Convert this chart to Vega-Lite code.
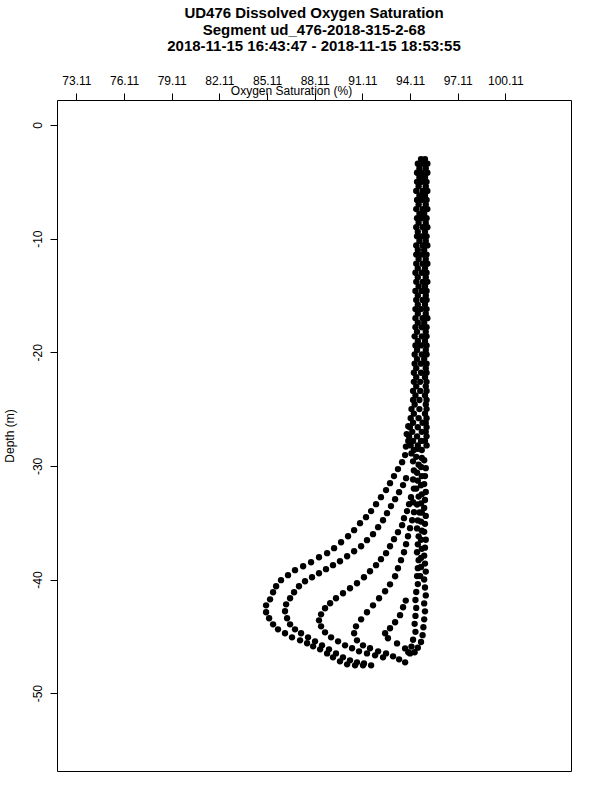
{
  "$schema": "https://vega.github.io/schema/vega-lite/v6.json",
  "autosize": "none",
  "padding": {"left": 57, "top": 100, "right": 29, "bottom": 29},
  "width": 514,
  "height": 671,
  "background": "white",
  "title": {
    "text": ["UD476 Dissolved Oxygen Saturation", "Segment ud_476-2018-315-2-68", "2018-11-15 16:43:47 - 2018-11-15 18:53:55"],
    "font": "Liberation Sans",
    "fontSize": 15,
    "fontWeight": "bold",
    "color": "black",
    "lineHeight": 16.5,
    "anchor": "middle",
    "frame": "group",
    "offset": 20
  },
  "data": {"values": [
    {"o":94.8,"d":-3.0},{"o":95.05,"d":-3.0},
    {"o":94.6,"d":-3.4},{"o":94.95,"d":-3.4},{"o":95.2,"d":-3.4},
    {"o":94.7,"d":-3.8},{"o":95.1,"d":-3.8},
    {"o":94.55,"d":-4.2},{"o":94.9,"d":-4.2},{"o":95.2,"d":-4.2},
    {"o":94.7,"d":-4.6},{"o":95.05,"d":-4.6},
    {"o":94.55,"d":-5.0},{"o":94.85,"d":-5.0},{"o":95.15,"d":-5.0},
    {"o":94.65,"d":-5.4},{"o":95.1,"d":-5.4},
    {"o":94.5,"d":-5.8},{"o":94.9,"d":-5.8},{"o":95.2,"d":-5.8},
    {"o":94.7,"d":-6.2},{"o":95.05,"d":-6.2},
    {"o":94.55,"d":-6.6},{"o":94.85,"d":-6.6},{"o":95.15,"d":-6.6},
    {"o":94.65,"d":-7.0},{"o":95.1,"d":-7.0},
    {"o":94.5,"d":-7.4},{"o":94.9,"d":-7.4},{"o":95.2,"d":-7.4},
    {"o":94.7,"d":-7.8},{"o":95.0,"d":-7.8},
    {"o":94.55,"d":-8.2},{"o":94.85,"d":-8.2},{"o":95.15,"d":-8.2},
    {"o":94.65,"d":-8.6},{"o":95.1,"d":-8.6},
    {"o":94.5,"d":-9.0},{"o":94.9,"d":-9.0},{"o":95.2,"d":-9.0},
    {"o":94.6,"d":-9.4},{"o":95.05,"d":-9.4},
    {"o":94.55,"d":-9.8},{"o":94.85,"d":-9.8},{"o":95.15,"d":-9.8},
    {"o":94.7,"d":-10.2},{"o":95.1,"d":-10.2},
    {"o":94.5,"d":-10.6},{"o":94.9,"d":-10.6},{"o":95.2,"d":-10.6},
    {"o":94.6,"d":-11.0},{"o":95.0,"d":-11.0},
    {"o":94.5,"d":-11.4},{"o":94.85,"d":-11.4},{"o":95.15,"d":-11.4},
    {"o":94.65,"d":-11.8},{"o":95.1,"d":-11.8},
    {"o":94.5,"d":-12.2},{"o":94.9,"d":-12.2},{"o":95.2,"d":-12.2},
    {"o":94.6,"d":-12.6},{"o":95.05,"d":-12.6},
    {"o":94.45,"d":-13.0},{"o":94.85,"d":-13.0},{"o":95.15,"d":-13.0},
    {"o":94.6,"d":-13.4},{"o":95.1,"d":-13.4},
    {"o":94.5,"d":-13.8},{"o":94.9,"d":-13.8},{"o":95.2,"d":-13.8},
    {"o":94.65,"d":-14.2},{"o":95.05,"d":-14.2},
    {"o":94.45,"d":-14.6},{"o":94.85,"d":-14.6},{"o":95.15,"d":-14.6},
    {"o":94.6,"d":-15.0},{"o":95.1,"d":-15.0},
    {"o":94.5,"d":-15.4},{"o":94.9,"d":-15.4},{"o":95.15,"d":-15.4},
    {"o":94.6,"d":-15.8},{"o":95.05,"d":-15.8},
    {"o":94.45,"d":-16.2},{"o":94.8,"d":-16.2},{"o":95.15,"d":-16.2},
    {"o":94.6,"d":-16.6},{"o":95.1,"d":-16.6},
    {"o":94.45,"d":-17.0},{"o":94.9,"d":-17.0},{"o":95.2,"d":-17.0},
    {"o":94.6,"d":-17.4},{"o":95.0,"d":-17.4},
    {"o":94.45,"d":-17.8},{"o":94.85,"d":-17.8},{"o":95.15,"d":-17.8},
    {"o":94.55,"d":-18.2},{"o":95.1,"d":-18.2},
    {"o":94.4,"d":-18.6},{"o":94.85,"d":-18.6},{"o":95.15,"d":-18.6},
    {"o":94.6,"d":-19.0},{"o":95.05,"d":-19.0},
    {"o":94.45,"d":-19.4},{"o":94.8,"d":-19.4},{"o":95.15,"d":-19.4},
    {"o":94.55,"d":-19.8},{"o":95.1,"d":-19.8},
    {"o":94.4,"d":-20.2},{"o":94.85,"d":-20.2},{"o":95.15,"d":-20.2},
    {"o":94.55,"d":-20.6},{"o":95.0,"d":-20.6},
    {"o":94.4,"d":-21.0},{"o":94.8,"d":-21.0},{"o":95.15,"d":-21.0},
    {"o":94.5,"d":-21.4},{"o":95.1,"d":-21.4},
    {"o":94.35,"d":-21.8},{"o":94.8,"d":-21.8},{"o":95.15,"d":-21.8},
    {"o":94.5,"d":-22.2},{"o":95.05,"d":-22.2},
    {"o":94.35,"d":-22.6},{"o":94.75,"d":-22.6},{"o":95.15,"d":-22.6},
    {"o":94.5,"d":-23.0},{"o":95.1,"d":-23.0},
    {"o":94.3,"d":-23.4},{"o":94.75,"d":-23.4},{"o":95.15,"d":-23.4},
    {"o":94.45,"d":-23.8},{"o":95.05,"d":-23.8},
    {"o":94.3,"d":-24.2},{"o":94.7,"d":-24.2},{"o":95.15,"d":-24.2},
    {"o":94.4,"d":-24.6},{"o":95.1,"d":-24.6},
    {"o":94.2,"d":-25.0},{"o":94.7,"d":-25.0},{"o":95.15,"d":-25.0},
    {"o":94.35,"d":-25.4},{"o":95.05,"d":-25.4},
    {"o":94.15,"d":-25.8},{"o":94.65,"d":-25.8},{"o":95.15,"d":-25.8},
    {"o":94.3,"d":-26.2},{"o":94.9,"d":-26.2},{"o":95.1,"d":-26.2},
    {"o":94.1,"d":-26.6},{"o":94.6,"d":-26.6},{"o":95.15,"d":-26.6},
    {"o":94.25,"d":-27.0},{"o":94.85,"d":-27.0},{"o":95.1,"d":-27.0},
    {"o":94.05,"d":-27.4},{"o":94.55,"d":-27.4},{"o":95.15,"d":-27.4},
    {"o":94.3,"d":-27.8},{"o":94.8,"d":-27.8},{"o":95.05,"d":-27.8},
    {"o":94.15,"d":-28.2},{"o":94.6,"d":-28.2},{"o":95.15,"d":-28.2},
    {"o":94.35,"d":-28.6},{"o":94.85,"d":-28.6},
    {"o":94.0,"d":-26.5},{"o":93.9,"d":-27.2},{"o":94.0,"d":-27.8},{"o":93.85,"d":-28.3},{"o":94.2,"d":-28.9},
    {"o":94.85,"d":-29.3},{"o":94.8,"d":-30.1},{"o":94.85,"d":-30.9},{"o":94.8,"d":-31.7},{"o":94.85,"d":-32.5},
    {"o":94.8,"d":-33.3},{"o":94.85,"d":-34.1},{"o":94.8,"d":-34.9},{"o":94.85,"d":-35.7},{"o":94.8,"d":-36.5},
    {"o":94.85,"d":-37.3},{"o":94.8,"d":-38.1},{"o":94.8,"d":-38.9},{"o":94.75,"d":-39.7},
    {"o":94.3,"d":-29.6},{"o":94.35,"d":-30.4},{"o":94.3,"d":-31.2},{"o":94.35,"d":-32.0},{"o":94.3,"d":-33.2},
    {"o":93.80,"d":-29.05},{"o":93.61,"d":-29.67},{"o":93.35,"d":-30.28},{"o":93.10,"d":-30.90},{"o":92.85,"d":-31.52},
    {"o":92.60,"d":-32.13},{"o":92.28,"d":-32.75},{"o":91.97,"d":-33.37},{"o":91.66,"d":-33.98},{"o":91.34,"d":-34.51},
    {"o":90.96,"d":-35.04},{"o":90.59,"d":-35.66},{"o":90.21,"d":-36.19},{"o":89.77,"d":-36.72},{"o":89.33,"d":-37.24},
    {"o":88.89,"d":-37.68},{"o":88.38,"d":-38.04},{"o":87.88,"d":-38.48},{"o":87.38,"d":-38.83},{"o":86.87,"d":-39.18},
    {"o":86.43,"d":-39.62},{"o":85.99,"d":-40.06},{"o":85.68,"d":-40.59},{"o":85.49,"d":-41.12},{"o":85.30,"d":-41.74},
    {"o":85.05,"d":-42.27},{"o":85.05,"d":-42.88},{"o":85.24,"d":-43.41},{"o":85.49,"d":-43.94},{"o":85.80,"d":-44.38},
    {"o":86.24,"d":-44.73},{"o":86.68,"d":-45.09},{"o":87.19,"d":-45.35},{"o":87.63,"d":-45.61},{"o":88.01,"d":-45.88},
    {"o":88.45,"d":-46.14},{"o":88.89,"d":-46.50},{"o":89.26,"d":-46.85},{"o":89.70,"d":-47.20},{"o":90.15,"d":-47.46},
    {"o":90.65,"d":-47.55},{"o":91.15,"d":-47.55},{"o":91.66,"d":-47.55},
    {"o":93.86,"d":-31.08},{"o":93.67,"d":-31.69},{"o":93.42,"d":-32.31},{"o":93.17,"d":-32.93},{"o":92.91,"d":-33.54},
    {"o":92.66,"d":-34.16},{"o":92.41,"d":-34.78},{"o":92.10,"d":-35.39},{"o":91.78,"d":-36.01},{"o":91.40,"d":-36.54},
    {"o":91.03,"d":-37.07},{"o":90.59,"d":-37.51},{"o":90.15,"d":-37.95},{"o":89.70,"d":-38.39},{"o":89.26,"d":-38.74},
    {"o":88.82,"d":-39.09},{"o":88.38,"d":-39.45},{"o":87.94,"d":-39.80},{"o":87.50,"d":-40.15},{"o":87.12,"d":-40.59},
    {"o":86.81,"d":-41.12},{"o":86.56,"d":-41.65},{"o":86.31,"d":-42.18},{"o":86.24,"d":-42.79},{"o":86.37,"d":-43.41},
    {"o":86.56,"d":-43.94},{"o":86.87,"d":-44.38},{"o":87.25,"d":-44.73},{"o":87.69,"d":-45.09},{"o":88.13,"d":-45.44},
    {"o":88.57,"d":-45.79},{"o":89.01,"d":-46.14},{"o":89.45,"d":-46.50},{"o":89.89,"d":-46.85},{"o":90.33,"d":-47.11},
    {"o":90.77,"d":-47.29},{"o":91.21,"d":-47.38},
    {"o":94.17,"d":-32.75},{"o":94.05,"d":-33.37},{"o":93.92,"d":-33.98},{"o":93.73,"d":-34.60},{"o":93.61,"d":-35.22},
    {"o":93.35,"d":-35.83},{"o":93.10,"d":-36.45},{"o":92.85,"d":-37.07},{"o":92.60,"d":-37.68},{"o":92.28,"d":-38.21},
    {"o":91.97,"d":-38.74},{"o":91.59,"d":-39.27},{"o":91.21,"d":-39.80},{"o":90.77,"d":-40.33},{"o":90.33,"d":-40.77},
    {"o":89.89,"d":-41.21},{"o":89.45,"d":-41.65},{"o":89.08,"d":-42.09},{"o":88.76,"d":-42.53},{"o":88.51,"d":-43.06},
    {"o":88.38,"d":-43.59},{"o":88.51,"d":-44.12},{"o":88.76,"d":-44.65},{"o":89.14,"d":-45.09},{"o":89.58,"d":-45.44},
    {"o":90.02,"d":-45.79},{"o":90.46,"d":-46.05},{"o":90.90,"d":-46.32},{"o":91.40,"d":-46.50},{"o":91.91,"d":-46.67},
    {"o":92.41,"d":-46.85},
    {"o":94.36,"d":-34.07},{"o":94.24,"d":-34.78},{"o":94.11,"d":-35.48},{"o":93.98,"d":-36.19},{"o":93.86,"d":-36.89},
    {"o":93.73,"d":-37.60},{"o":93.54,"d":-38.30},{"o":93.35,"d":-39.01},{"o":93.17,"d":-39.71},{"o":92.85,"d":-40.42},
    {"o":92.54,"d":-41.03},{"o":92.16,"d":-41.65},{"o":91.78,"d":-42.27},{"o":91.40,"d":-42.88},{"o":91.03,"d":-43.50},
    {"o":90.71,"d":-44.12},{"o":90.59,"d":-44.73},{"o":90.77,"d":-45.35},{"o":91.15,"d":-45.79},{"o":91.59,"d":-46.05},
    {"o":92.10,"d":-46.32},{"o":92.60,"d":-46.50},{"o":93.04,"d":-46.76},{"o":93.42,"d":-47.02},{"o":93.80,"d":-47.29},
    {"o":95.0,"d":-29.5},{"o":95.1,"d":-30.2},{"o":95.05,"d":-30.9},{"o":95.0,"d":-31.6},{"o":95.1,"d":-32.3},
    {"o":95.05,"d":-33.0},{"o":95.0,"d":-33.7},{"o":95.1,"d":-34.4},{"o":95.05,"d":-35.1},{"o":95.0,"d":-35.8},
    {"o":95.1,"d":-36.5},{"o":95.05,"d":-37.2},{"o":95.0,"d":-37.9},{"o":95.05,"d":-38.6},{"o":95.1,"d":-39.3},
    {"o":95.0,"d":-40.0},{"o":95.05,"d":-40.7},{"o":95.1,"d":-41.4},{"o":95.0,"d":-42.1},{"o":95.05,"d":-42.8},
    {"o":95.0,"d":-43.5},{"o":94.95,"d":-44.2},{"o":94.9,"d":-44.9},{"o":94.8,"d":-45.5},{"o":94.6,"d":-46.0},{"o":94.4,"d":-46.4},
    {"o":94.6,"d":-28.5},{"o":94.5,"d":-29.2},{"o":94.65,"d":-29.9},{"o":94.55,"d":-30.6},{"o":94.6,"d":-31.3},
    {"o":94.5,"d":-32.0},{"o":94.65,"d":-32.7},{"o":94.55,"d":-33.4},{"o":94.7,"d":-34.1},{"o":94.6,"d":-34.8},
    {"o":94.55,"d":-35.5},{"o":94.65,"d":-36.2},{"o":94.6,"d":-36.9},{"o":94.55,"d":-37.6},{"o":94.65,"d":-38.3},
    {"o":94.6,"d":-39.0},{"o":94.55,"d":-39.7},{"o":94.6,"d":-40.4},{"o":94.5,"d":-41.1},{"o":94.45,"d":-41.8},
    {"o":94.5,"d":-42.5},{"o":94.45,"d":-43.2},{"o":94.4,"d":-43.9},{"o":94.45,"d":-44.6},{"o":94.3,"d":-45.3},
    {"o":94.2,"d":-45.9},{"o":94.0,"d":-46.4},
    {"o":93.84,"d":-41.85},{"o":93.67,"d":-42.44},{"o":93.48,"d":-43.14},{"o":93.17,"d":-43.76},{"o":92.85,"d":-44.29},
    {"o":92.54,"d":-44.73},{"o":92.72,"d":-45.17},{"o":93.29,"d":-45.62},{"o":93.80,"d":-46.06},{"o":94.11,"d":-46.50}
  ]},
  "mark": {"type": "point", "shape": "circle", "filled": true, "color": "black", "opacity": 1, "size": 40},
  "encoding": {
    "x": {
      "field": "o", "type": "quantitative",
      "scale": {"domain": [71.89, 104.24], "nice": false, "zero": false},
      "axis": {
        "orient": "top",
        "values": [73.11, 76.11, 79.11, 82.11, 85.11, 88.11, 91.11, 94.11, 97.11, 100.11],
        "format": ".2f",
        "labelPadding": 6,
        "labelFlush": false,
        "title": "Oxygen Saturation (%)",
        "titleX": 234,
        "titleY": -6,
        "titleBaseline": "alphabetic",
        "titleAlign": "center"
      }
    },
    "y": {
      "field": "d", "type": "quantitative",
      "scale": {"domain": [-56.85, 2.2], "nice": false, "zero": false},
      "axis": {
        "values": [0, -10, -20, -30, -40, -50],
        "labelExpr": "'' + datum.value",
        "labelAngle": -90,
        "labelPadding": 6,
        "labelFlush": false,
        "title": "Depth (m)",
        "titleX": -44,
        "titleY": 335.5,
        "titleAngle": -90,
        "titleBaseline": "alphabetic",
        "titleAlign": "center"
      }
    }
  },
  "config": {
    "view": {"stroke": "black", "strokeWidth": 1},
    "axis": {
      "grid": false,
      "domain": false,
      "tickColor": "black",
      "tickSize": 7,
      "tickWidth": 1,
      "labelColor": "black",
      "titleColor": "black",
      "labelFont": "Liberation Sans",
      "titleFont": "Liberation Sans",
      "labelFontSize": 12,
      "titleFontSize": 12,
      "titleFontWeight": "normal"
    }
  }
}
